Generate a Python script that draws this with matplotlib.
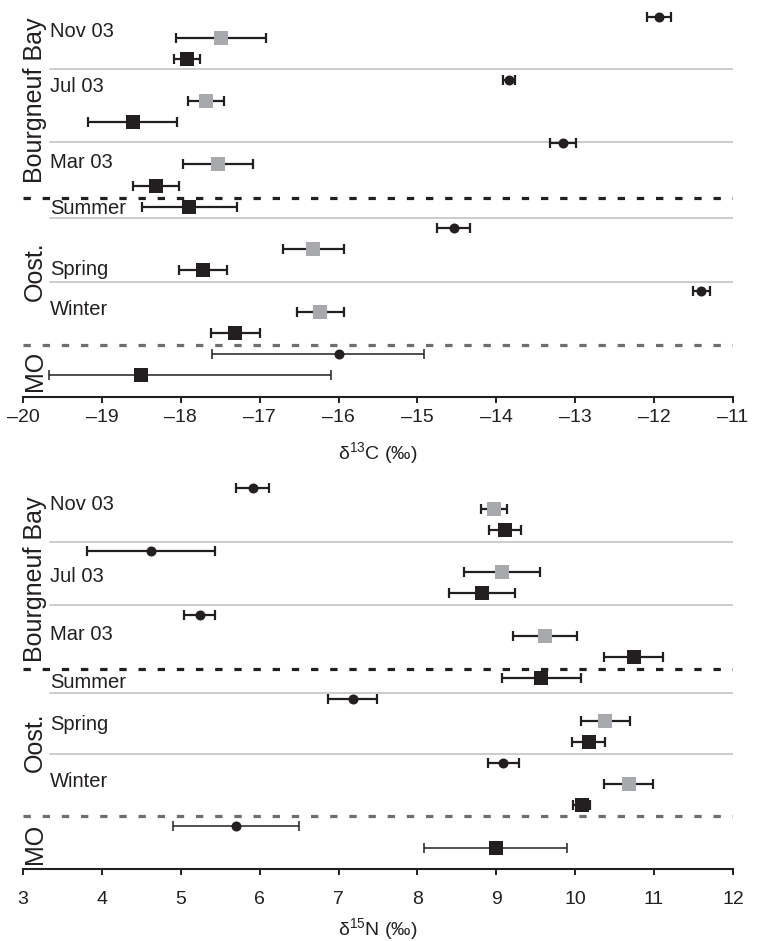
import numpy as np
import matplotlib
matplotlib.use("Agg")
import matplotlib.pyplot as plt

plt.rcParams['font.family'] = ['Liberation Sans', 'DejaVu Sans']
plt.rcParams['mathtext.fontset'] = 'custom'
plt.rcParams['mathtext.rm'] = 'Liberation Sans'
plt.rcParams['mathtext.it'] = 'Liberation Sans:italic'
plt.rcParams['mathtext.bf'] = 'Liberation Sans:bold'

# ---------------- data ----------------
rows = ['Nov 03', 'Jul 03', 'Mar 03', 'Summer', 'Spring', 'Winter', 'MO']
groups = ['Bourgneuf Bay', 'Oost.', 'MO']
nan = np.nan

# delta13C (top panel): mean, lower error, upper error
circle_c = [-11.94, -13.84, -13.15, nan, -14.54, -11.40, -16.00]
circle_c_lo = [0.15, 0.08, 0.165, nan, 0.21, 0.11, 1.60]
circle_c_hi = [0.15, 0.08, 0.165, nan, 0.21, 0.11, 1.08]
gray_c = [-17.49, -17.68, -17.53, nan, -16.32, -16.23, nan]
gray_c_lo = [0.575, 0.225, 0.445, nan, 0.39, 0.30, nan]
gray_c_hi = [0.575, 0.225, 0.445, nan, 0.39, 0.30, nan]
black_c = [-17.92, -18.61, -18.31, -17.89, -17.72, -17.31, -18.50]
black_c_lo = [0.16, 0.565, 0.29, 0.60, 0.30, 0.31, 1.17]
black_c_hi = [0.16, 0.565, 0.29, 0.60, 0.30, 0.31, 2.41]

# delta15N (bottom panel)
circle_n = [5.91, 4.62, 5.24, nan, 7.18, 9.09, 5.70]
circle_n_err = [0.21, 0.81, 0.195, nan, 0.31, 0.20, 0.80]
gray_n = [8.97, 9.07, 9.62, nan, 10.38, 10.68, nan]
gray_n_err = [0.16, 0.485, 0.405, nan, 0.31, 0.31, nan]
black_n = [9.11, 8.82, 10.74, 9.57, 10.17, 10.08, 8.99]
black_n_err = [0.20, 0.42, 0.377, 0.50, 0.21, 0.11, 0.905]

c_ticks = [-20, -19, -18, -17, -16, -15, -14, -13, -12, -11]
n_ticks = [3, 4, 5, 6, 7, 8, 9, 10, 11, 12]

# ---------------- layout ----------------
BLACK = '#231f20'
GRAY = '#a7a9ac'
SEP = '#bcbec0'
DOT2 = '#6d6e71'

circle_slots = [0, 3, 6, nan, 10, 13, 16]
gray_slots = [1, 4, 7, nan, 11, 14, nan]
black_slots = [2, 5, 8, 9, 12, 15, 17]

W, H = 768, 941
fig = plt.figure(figsize=(W / 100, H / 100), dpi=100)


def px_axes(top, bottom, left=23, right=733):
    return fig.add_axes([left / W, 1 - bottom / H, (right - left) / W, (bottom - top) / H])


def draw(ax, series, seps, dots, label_slots, xlim, ticks, xlabel, ylim):
    for (vals, lo, hi, slots, marker, color, ms) in series:
        n = len(vals)
        for i in range(n):
            v, s = vals[i], slots[i]
            if np.isnan(v):
                continue
            mo = (i == n - 1)
            lw = 1.1 if mo else 1.6
            ax.errorbar([v], [s], xerr=[[lo[i]], [hi[i]]], fmt='none', ecolor=BLACK,
                        elinewidth=lw, capsize=3.8, capthick=lw, zorder=3)
            ax.plot([v], [s], marker=marker, color=color, ms=ms,
                    linestyle='none', zorder=4, markeredgewidth=0)
    for y in seps:
        ax.axhline(y, xmin=0.038, xmax=1.0, color=SEP, lw=1.1, zorder=1)
    for y, col in dots:
        ax.axhline(y, color=col, lw=2.3, linestyle=(0, (2.3, 3.7)), zorder=2)
    for lab, s in zip(rows[:6], label_slots):
        ax.text(0.038, s, lab, transform=ax.get_yaxis_transform(),
                ha='left', va='center', fontsize=14.5, color=BLACK)
    ax.set_xlim(*xlim)
    ax.set_ylim(*ylim)
    ax.set_xticks(ticks)
    ax.set_xticklabels([f'{t}'.replace('-', '\u2013') for t in ticks])
    ax.set_yticks([])
    for sp in ['top', 'left', 'right']:
        ax.spines[sp].set_visible(False)
    ax.spines['bottom'].set_linewidth(1.5)
    ax.spines['bottom'].set_color(BLACK)
    ax.tick_params(axis='x', direction='out', length=4.5, width=1.4,
                   color=BLACK, labelsize=14, labelcolor=BLACK)
    ax.set_xlabel(xlabel, fontsize=14, color=BLACK)


# top panel
ax1 = px_axes(0, 397)
draw(ax1,
     [(circle_c, circle_c_lo, circle_c_hi, circle_slots, 'o', BLACK, 7.2),
      (gray_c, gray_c_lo, gray_c_hi, gray_slots, 's', GRAY, 9.4),
      (black_c, black_c_lo, black_c_hi, black_slots, 's', BLACK, 9.4)],
     seps=[2.47, 5.92, 9.54, 12.58],
     dots=[(8.59, BLACK), (15.57, DOT2)],
     label_slots=[0.71, 3.31, 6.91, 9.09, 11.99, 13.87],
     xlim=(-20, -11), ticks=c_ticks,
     xlabel='\u03b4$^{13}$C (\u2030)',
     ylim=(18.04, -0.807))
ax1.tick_params(axis='x', pad=4.5)
ax1.xaxis.set_label_coords(0.5, -0.108)

# bottom panel
ax2 = px_axes(466, 869)
draw(ax2,
     [(circle_n, circle_n_err, circle_n_err, circle_slots, 'o', BLACK, 7.2),
      (gray_n, gray_n_err, gray_n_err, gray_slots, 's', GRAY, 9.4),
      (black_n, black_n_err, black_n_err, black_slots, 's', BLACK, 9.4)],
     seps=[2.56, 5.54, 9.68, 12.56],
     dots=[(8.55, BLACK), (15.49, DOT2)],
     label_slots=[0.82, 4.2, 6.93, 9.2, 11.2, 13.9],
     xlim=(3, 12), ticks=n_ticks,
     xlabel='\u03b4$^{15}$N (\u2030)',
     ylim=(18.01, -1.02))
ax2.tick_params(axis='x', pad=11)
ax2.xaxis.set_label_coords(0.5, -0.118)

# group labels
for lab, yc in zip(groups, [100, 271, 371]):
    fig.text(35 / W, 1 - yc / H, lab, rotation=90, ha='center', va='center',
             fontsize=18, color=BLACK)
for lab, yc in zip(groups, [579, 742, 844]):
    fig.text(35 / W, 1 - yc / H, lab, rotation=90, ha='center', va='center',
             fontsize=18, color=BLACK)

fig.savefig('out.png', dpi=100)
